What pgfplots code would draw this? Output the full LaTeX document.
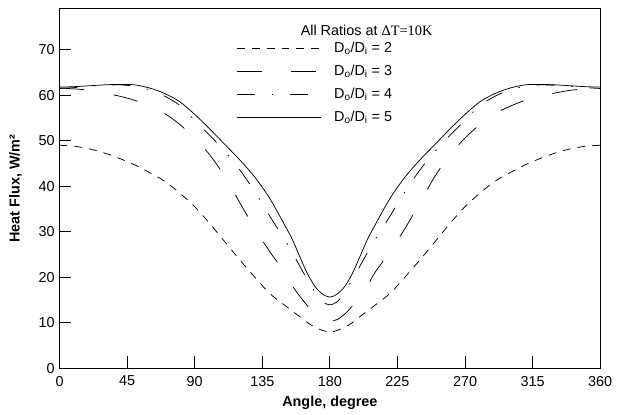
\documentclass[border=0pt]{standalone}
\usepackage{pgfplots}
\pgfplotsset{compat=1.18}
\usepackage{fontspec}
\setmainfont{Liberation Sans}
\newfontfamily\timesfont{Liberation Serif}

\begin{document}
\fontsize{14.5}{16}\selectfont
\begin{tikzpicture}
\begin{axis}[
    scale only axis,
    width=545pt,
    height=362pt,
    xmin=0, xmax=360,
    ymin=0, ymax=79,
    xtick={0,45,...,360},
    ytick={0,10,...,70},
    tick pos=left,
    tick align=inside,
    major tick length=12pt,
    /pgf/number format/assume math mode=true,
    tick label style={font=\fontsize{14.5}{16}\selectfont},
    xticklabel style={yshift=-3pt},
    xlabel={\bfseries Angle, degree},
    ylabel={\bfseries Heat Flux, W/m²},
    label style={font=\fontsize{14.5}{16}\selectfont},
    xlabel style={yshift=0pt},
    ylabel style={yshift=7pt},
    axis line style={line width=0.9pt},
    every tick/.style={black, line width=0.9pt},
    legend cell align=left,
    legend style={draw=none, fill=none, at={(0.327,0.915)}, anchor=north west,
        font=\fontsize{14.5}{16}\selectfont, row sep=6.5pt, inner sep=0pt,
        nodes={inner xsep=6pt}},
    legend image code/.code={\draw[#1] (0pt,0pt) -- (85pt,0pt);
        \path[draw=none] (0pt,0pt) -- (92pt,0pt);},
    every axis plot/.append style={black, line width=0.75pt, smooth, tension=0.5},
]
% D_o/D_i = 2
\addplot[dash pattern=on 8pt off 7pt] coordinates {
(0,49.0) (10,48.8) (20,48.2) (30,47.3) (40,46.1) (50,44.7) (60,43.0) (70,41.1)
(80,38.5) (90,35.5) (100,31.8) (110,27.8) (120,23.8) (130,20.0) (140,16.4)
(150,13.8) (160,11.3) (165,10.0) (170,9.0) (175,8.3) (180,7.9)
(185,8.3) (190,9.0) (195,10.0) (200,11.3) (210,13.8) (220,16.4) (230,20.0)
(240,23.8) (250,27.8) (260,31.8) (270,35.5) (280,38.5) (290,41.1) (300,43.0)
(310,44.7) (320,46.1) (330,47.3) (340,48.2) (350,48.8) (360,49.0)
};
\addlegendentry{D\textsubscript{o}/D\textsubscript{i} = 2}
% D_o/D_i = 3
\addplot[dash pattern=on 25pt off 30pt] coordinates {
(0,61.6) (10,61.4) (20,61.1) (30,60.5) (40,59.8) (50,58.9) (60,57.6) (70,56.0)
(80,53.6) (90,50.6) (100,46.9) (110,42.2) (120,36.4) (130,30.7) (140,25.6)
(150,21.0) (155,18.1) (160,15.8) (165,13.7) (170,11.9) (175,10.7) (180,10.3)
(185,10.7) (190,11.9) (195,13.7) (200,15.8) (205,18.1) (210,21.0) (220,25.6)
(230,30.7) (240,36.4) (250,42.2) (260,46.9) (270,50.6) (280,53.6) (290,56.0)
(300,57.6) (310,58.9) (320,59.8) (330,60.5) (340,61.1) (350,61.4) (360,61.6)
};
\addlegendentry{D\textsubscript{o}/D\textsubscript{i} = 3}
% D_o/D_i = 4
\addplot[dash pattern=on 18pt off 17pt on 1.5pt off 17pt] coordinates {
(0,61.5) (10,61.7) (20,62.0) (30,62.2) (40,62.3) (50,62.0) (60,61.2) (70,59.8)
(80,57.8) (90,54.5) (100,51.2) (110,47.7) (120,43.6) (130,38.8) (140,33.4)
(150,28.2) (155,25.4) (160,22.4) (165,19.5) (170,16.8) (175,14.6) (180,13.9)
(185,14.6) (190,16.8) (195,19.5) (200,22.4) (205,25.4) (210,28.2) (220,33.4)
(230,38.8) (240,43.6) (250,47.7) (260,51.2) (270,54.5) (280,57.8) (290,59.8)
(300,61.2) (310,62.0) (320,62.3) (330,62.2) (340,62.0) (350,61.7) (360,61.5)
};
\addlegendentry{D\textsubscript{o}/D\textsubscript{i} = 4}
% D_o/D_i = 5
\addplot[solid] coordinates {
(0,61.8) (10,61.9) (20,62.1) (30,62.3) (40,62.4) (50,62.3) (60,61.6) (70,60.4)
(80,58.6) (90,55.8) (100,52.6) (110,49.2) (120,45.8) (130,42.0) (140,37.3)
(150,31.4) (155,28.3) (160,24.5) (165,20.8) (170,18.0) (175,16.3) (180,15.6)
(185,16.3) (190,18.0) (195,20.8) (200,24.5) (205,28.3) (210,31.4) (220,37.3)
(230,42.0) (240,45.8) (250,49.2) (260,52.6) (270,55.8) (280,58.6) (290,60.4)
(300,61.6) (310,62.3) (320,62.4) (330,62.3) (340,62.1) (350,61.9) (360,61.8)
};
\addlegendentry{D\textsubscript{o}/D\textsubscript{i} = 5}
\node[anchor=west, inner sep=0pt, font=\fontsize{14.5}{16}\selectfont]
    at (axis cs:160.5,74.3) {All Ratios at {\timesfont ΔT=10K}};
\end{axis}
\path (current axis.south west) ++(-60pt,-44pt);
\path (current axis.north east) ++(12pt,9pt);
\end{tikzpicture}
\end{document}
